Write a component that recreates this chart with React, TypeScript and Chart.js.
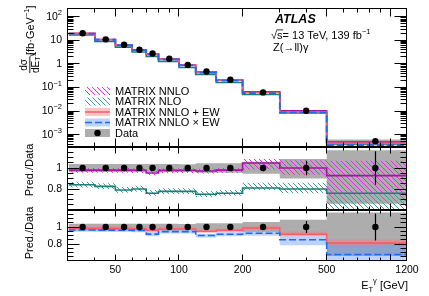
import React, { useEffect, useRef } from 'react';
import { Chart, registerables } from 'chart.js';

Chart.register(...registerables);

const FONT = '"Liberation Sans", Arial, Helvetica, sans-serif';
const W = 429;
const H = 296;

// ---------------- data ----------------
const binEdges = [30, 40, 50, 60, 70, 80, 100, 120, 150, 200, 300, 500, 1200];
// measured dσ/dE_T^γ [fb/GeV]
const dataValues = [20, 11, 6.5, 4.0, 2.75, 1.65, 0.91, 0.48, 0.215, 0.062, 0.0103, 0.00053];
const dataStatRel = [0.008, 0.008, 0.01, 0.01, 0.012, 0.012, 0.015, 0.018, 0.022, 0.03, 0.07, 0.16];
const dataBandLo = [0.962, 0.962, 0.962, 0.962, 0.962, 0.962, 0.965, 0.955, 0.955, 0.945, 0.9, 0.66];
const dataBandHi = [1.038, 1.038, 1.038, 1.038, 1.038, 1.038, 1.035, 1.045, 1.045, 1.06, 1.085, 1.17];

// predictions / data
const nnloRatio = [0.98, 0.98, 0.98, 0.978, 0.952, 0.977, 0.977, 0.972, 0.98, 1.048, 1.0, 0.927];
const nnloLo = [0.955, 0.955, 0.955, 0.953, 0.93, 0.952, 0.952, 0.947, 0.955, 0.985, 0.935, 0.765];
const nnloHi = [1.0, 1.0, 1.0, 0.998, 0.972, 0.997, 0.997, 0.992, 1.0, 1.085, 1.075, 1.07];

const nloRatio = [0.84, 0.825, 0.79, 0.8, 0.76, 0.777, 0.777, 0.75, 0.76, 0.81, 0.8, 0.76];
const nloLo = [0.815, 0.8, 0.765, 0.775, 0.735, 0.752, 0.752, 0.725, 0.735, 0.79, 0.76, 0.55];
const nloHi = [0.87, 0.855, 0.82, 0.83, 0.79, 0.807, 0.807, 0.78, 0.79, 0.86, 0.86, 0.86];

const ewAddRatio = [0.985, 0.985, 0.983, 0.98, 0.958, 0.977, 0.977, 0.95, 0.96, 0.988, 0.915, 0.81];
const ewAddLo = [0.963, 0.963, 0.961, 0.958, 0.936, 0.955, 0.955, 0.928, 0.938, 0.963, 0.888, 0.773];
const ewAddHi = [1.007, 1.007, 1.005, 1.002, 0.98, 0.999, 0.999, 0.972, 0.982, 1.012, 0.945, 0.85];

const ewMulRatio = [0.965, 0.963, 0.962, 0.96, 0.916, 0.946, 0.946, 0.9, 0.915, 0.927, 0.85, 0.677];
const ewMulLo = [0.943, 0.941, 0.94, 0.938, 0.891, 0.923, 0.923, 0.876, 0.89, 0.898, 0.785, 0.55];
const ewMulHi = [0.985, 0.983, 0.982, 0.98, 0.938, 0.967, 0.967, 0.922, 0.938, 0.953, 0.89, 0.79];

// ---------------- axes / labels ----------------
const xLabelValues = [50, 100, 200, 500, 1200];
const xMajorTicks = [50, 100, 200, 500, 1000];
const xMinorTicks = [40, 60, 70, 80, 90, 300, 400, 600, 700, 800, 900];
const topTickValues = [100, 10, 1, 0.1, 0.01, 0.001];
const topTickBase = ['10', '10', '1', '10', '10', '10'];
const topTickExp = ['2', '', '', '\u22121', '\u22122', '\u22123'];
const ratioTickValues = [1, 0.8];
const ratioTickLabels = ['1', '0.8'];
const legendLabels = ['MATRIX NNLO', 'MATRIX NLO', 'MATRIX NNLO + EW', 'MATRIX NNLO \u00d7 EW', 'Data'];

// ---------------- layout ----------------
const PLOT_LEFT = 68.5;
const PLOT_RIGHT = 407;
const TOP_Y = [8, 147];
const MID_Y = [147, 210];
const BOT_Y = [210, 261];
const MID_TITLE_Y = 170;
const BOT_TITLE_Y = 233;

const COL = {
  nnloLine: '#a316a3',
  nnloHatch: '#e02ce0',
  nloLine: '#1b7d7a',
  nloHatch: '#3c9c98',
  ewAddLine: '#ff5a6a',
  ewAddBand: 'rgba(255,120,120,0.42)',
  ewMulLine: '#1f6af0',
  ewMulBand: 'rgba(90,150,255,0.42)',
  gray: '#adadad',
};

const centers = binEdges.slice(0, -1).map((lo, i) => (lo + binEdges[i + 1]) / 2);

function steps(vals: number[]) {
  const pts: { x: number; y: number }[] = [];
  vals.forEach((v, i) => {
    pts.push({ x: binEdges[i], y: v });
    pts.push({ x: binEdges[i + 1], y: v });
  });
  return pts;
}

function hatch(ctx: CanvasRenderingContext2D, color: string) {
  const s = 5;
  const c = document.createElement('canvas');
  c.width = s;
  c.height = s;
  const g = c.getContext('2d')!;
  g.strokeStyle = color;
  g.lineWidth = 1;
  g.beginPath();
  g.moveTo(0, 0);
  g.lineTo(s, s);
  g.moveTo(-1, s - 1);
  g.lineTo(1, s + 1);
  g.moveTo(s - 1, -1);
  g.lineTo(s + 1, 1);
  g.stroke();
  return ctx.createPattern(c, 'repeat')!;
}

const snap = (v: number) => Math.floor(v) + 0.5;

function lineDs(vals: number[], color: string, width: number, order: number, dash: number[] = []) {
  return {
    data: steps(vals),
    borderColor: color,
    borderWidth: width,
    borderDash: dash,
    pointRadius: 0,
    fill: false,
    tension: 0,
    order,
  };
}

function bandDs(lo: number[], hi: number[], fillStyle: any, order: number) {
  return [
    { data: steps(lo), borderColor: 'rgba(0,0,0,0)', borderWidth: 0, pointRadius: 0, fill: false, tension: 0, order },
    { data: steps(hi), borderColor: 'rgba(0,0,0,0)', borderWidth: 0, pointRadius: 0, fill: '-1', backgroundColor: fillStyle, tension: 0, order },
  ];
}

function dotsDs(vals: number[]) {
  return {
    data: centers.map((x, i) => ({ x, y: vals[i] })),
    showLine: false,
    pointRadius: 3.2,
    pointBackgroundColor: '#000',
    pointBorderWidth: 0,
    borderColor: '#000',
    order: 0,
  };
}

function richText(ctx: CanvasRenderingContext2D, parts: { t: string; size: number; dy: number; style?: string }[], x: number, y: number, align: 'left' | 'right') {
  let total = 0;
  const ws = parts.map((p) => {
    ctx.font = `${p.style || ''} ${p.size}px ${FONT}`;
    const w = ctx.measureText(p.t).width;
    total += w;
    return w;
  });
  let cx = align === 'right' ? x - total : x;
  ctx.textAlign = 'left';
  parts.forEach((p, i) => {
    ctx.font = `${p.style || ''} ${p.size}px ${FONT}`;
    ctx.fillText(p.t, cx, y + p.dy);
    cx += ws[i];
  });
  return total;
}

type AxisSpec = {
  yMajor: number[];
  yMinor: number[];
  yMajLen: number;
  yMinLen: number;
  xMajLen: number;
  xMinLen: number;
};

function drawAxes(chart: any, s: AxisSpec) {
  const { ctx, chartArea: a } = chart;
  const xs = chart.scales.x;
  const ys = chart.scales.y;
  const L = snap(a.left) - 1, R = snap(a.right) - 1, T = snap(a.top), B = snap(a.bottom) - 1;
  ctx.save();
  ctx.strokeStyle = '#000';
  ctx.lineWidth = 1;
  ctx.beginPath();
  const xt = (vals: number[], len: number) =>
    vals.forEach((v) => {
      const p = snap(xs.getPixelForValue(v));
      if (p <= L + 1 || p >= R - 1) return;
      ctx.moveTo(p, B);
      ctx.lineTo(p, B - len);
      ctx.moveTo(p, T);
      ctx.lineTo(p, T + len);
    });
  const yt = (vals: number[], len: number) =>
    vals.forEach((v) => {
      const p = snap(ys.getPixelForValue(v));
      if (p <= T + 1 || p >= B - 1) return;
      ctx.moveTo(L, p);
      ctx.lineTo(L + len, p);
      ctx.moveTo(R, p);
      ctx.lineTo(R - len, p);
    });
  xt(xMajorTicks, s.xMajLen);
  xt(xMinorTicks, s.xMinLen);
  yt(s.yMajor, s.yMajLen);
  yt(s.yMinor, s.yMinLen);
  ctx.stroke();
  ctx.strokeRect(L, T, R - L, B - T);
  ctx.restore();
}

function drawErrorBars(chart: any, vals: number[], rel: number[]) {
  const { ctx } = chart;
  const xs = chart.scales.x;
  const ys = chart.scales.y;
  ctx.save();
  ctx.strokeStyle = '#000';
  ctx.lineWidth = 1.2;
  ctx.beginPath();
  vals.forEach((v, i) => {
    const px = snap(xs.getPixelForValue(centers[i]));
    const y1 = ys.getPixelForValue(v * (1 + rel[i]));
    const y2 = ys.getPixelForValue(v * (1 - rel[i]));
    ctx.moveTo(px, y1);
    ctx.lineTo(px, y2);
  });
  ctx.stroke();
  ctx.restore();
}

function drawRotated(ctx: CanvasRenderingContext2D, cx: number, cy: number, fn: () => void) {
  ctx.save();
  ctx.translate(cx, cy);
  ctx.rotate(-Math.PI / 2);
  fn();
  ctx.restore();
}

function ratioYTicks() {
  const minor: number[] = [];
  for (let k = 12; k <= 24; k++) minor.push(k * 0.05);
  return { major: [0.6, 0.8, 1.0, 1.2], minor };
}

function topMinorTicks() {
  const out: number[] = [];
  for (let e = -4; e <= 2; e++) for (let m = 2; m <= 9; m++) out.push(m * Math.pow(10, e));
  return out;
}

function baseOptions(yType: string, yMin: number, yMax: number, yRange: number[]) {
  return {
    responsive: false,
    animation: false,
    devicePixelRatio: 1,
    events: [],
    layout: { padding: { left: PLOT_LEFT, right: W - PLOT_RIGHT, top: yRange[0], bottom: H - yRange[1] } },
    scales: {
      x: { type: 'logarithmic', min: 30, max: 1200, display: false },
      y: { type: yType, min: yMin, max: yMax, display: false },
    },
    plugins: { legend: { display: false }, tooltip: { enabled: false }, title: { display: false } },
  };
}

function drawRatioLabels(chart: any, titleY: number) {
  const { ctx } = chart;
  const ys = chart.scales.y;
  ctx.save();
  ctx.fillStyle = '#000';
  ctx.textBaseline = 'middle';
  ratioTickValues.forEach((v, i) => {
    richText(ctx, [{ t: ratioTickLabels[i], size: 10.5, dy: 0 }], 62, ys.getPixelForValue(v), 'right');
  });
  drawRotated(ctx, 30, titleY, () => {
    ctx.textAlign = 'center';
    ctx.textBaseline = 'middle';
    ctx.font = `11px ${FONT}`;
    ctx.fillText('Pred./Data', 0, 0);
  });
  ctx.restore();
}

function makeTop(canvas: HTMLCanvasElement) {
  const ctx = canvas.getContext('2d')!;
  const nnloAbs = dataValues.map((d, i) => d * nnloRatio[i]);
  const nloAbs = dataValues.map((d, i) => d * nloRatio[i]);
  const addAbs = dataValues.map((d, i) => d * ewAddRatio[i]);
  const mulAbs = dataValues.map((d, i) => d * ewMulRatio[i]);
  const bandLo = dataValues.map((d, i) => d * dataBandLo[i]);
  const bandHi = dataValues.map((d, i) => d * dataBandHi[i]);
  const datasets: any[] = [
    ...bandDs(bandLo, bandHi, COL.gray, 9),
    lineDs(nloAbs, COL.nloLine, 1.6, 6),
    lineDs(nnloAbs, COL.nnloLine, 1.6, 5),
    lineDs(addAbs, COL.ewAddLine, 1.6, 4),
    lineDs(mulAbs, COL.ewMulLine, 1.8, 3, [7, 3]),
    dotsDs(dataValues),
  ];
  const yMinor = topMinorTicks();
  const plugin = {
    id: 'topDeco',
    afterDatasetsDraw(chart: any) {
      drawErrorBars(chart, dataValues, dataStatRel);
      drawAxes(chart, { yMajor: topTickValues, yMinor, yMajLen: 12, yMinLen: 6, xMajLen: 8, xMinLen: 4 });
      const c = chart.ctx as CanvasRenderingContext2D;
      const ys = chart.scales.y;
      c.save();
      c.fillStyle = '#000';
      c.textBaseline = 'middle';
      topTickValues.forEach((v, i) => {
        const y = ys.getPixelForValue(v);
        const parts = [{ t: topTickBase[i], size: 10.5, dy: 0 }];
        if (topTickExp[i]) parts.push({ t: topTickExp[i], size: 7.5, dy: -4 });
        richText(c, parts, 62, y, 'right');
      });
      // y title
      drawRotated(c, 30, 73, () => {
        c.textBaseline = 'middle';
        c.textAlign = 'center';
        c.font = `10px ${FONT}`;
        c.fillText('d\u03c3', 8, -6);
        c.fillRect(0, -0.6, 16.5, 0.9);
        c.textAlign = 'left';
        richText(c, [
          { t: 'dE', size: 10, dy: 0 },
          { t: 'T', size: 7, dy: 2.5 },
          { t: '\u03b3', size: 7, dy: -3.5 },
        ], 0, 6, 'left');
        richText(c, [
          { t: '[fb\u00b7GeV', size: 11, dy: 0 },
          { t: '\u22121', size: 7.5, dy: -4 },
          { t: ']', size: 11, dy: 0 },
        ], 18, 0.5, 'left');
      });
      // ATLAS label
      c.textBaseline = 'middle';
      richText(c, [{ t: 'ATLAS', size: 12.5, dy: 0, style: 'italic bold' }], 275, 20, 'left');
      c.font = `11px ${FONT}`;
      const x0 = 271;
      const wRoot = c.measureText('\u221a').width;
      const wS = c.measureText('s').width;
      richText(c, [
        { t: '\u221as= 13 TeV, 139 fb', size: 11, dy: 0 },
        { t: '\u22121', size: 7.5, dy: -4 },
      ], x0, 35.5, 'left');
      c.fillRect(x0 + wRoot - 0.5, 29.5, wS + 1, 0.8);
      richText(c, [{ t: 'Z(\u2192ll)\u03b3', size: 11, dy: 0 }], 273, 47.5, 'left');
      // legend
      const rowsY = [91, 101.5, 112, 122.5, 133];
      const bx = 85, bw = 25, bh = 8;
      const hatchN = hatch(c, COL.nnloHatch);
      const hatchL = hatch(c, COL.nloHatch);
      rowsY.forEach((y, i) => {
        const top = y - bh / 2;
        if (i === 0) { c.fillStyle = hatchN; c.fillRect(bx, top, bw, bh); }
        if (i === 1) { c.fillStyle = hatchL; c.fillRect(bx, top, bw, bh); }
        if (i === 2) {
          c.fillStyle = COL.ewAddBand; c.fillRect(bx, top, bw, bh);
          c.strokeStyle = COL.ewAddLine; c.lineWidth = 1.5; c.setLineDash([]);
          c.beginPath(); c.moveTo(bx, y); c.lineTo(bx + bw, y); c.stroke();
        }
        if (i === 3) {
          c.fillStyle = COL.ewMulBand; c.fillRect(bx, top, bw, bh);
          c.strokeStyle = COL.ewMulLine; c.lineWidth = 1.5; c.setLineDash([7, 3]);
          c.beginPath(); c.moveTo(bx, y); c.lineTo(bx + bw, y); c.stroke();
          c.setLineDash([]);
        }
        if (i === 4) {
          c.fillStyle = COL.gray; c.fillRect(bx, top, bw, bh);
          c.fillStyle = '#000'; c.beginPath(); c.arc(bx + bw / 2, y, 3.2, 0, Math.PI * 2); c.fill();
        }
        c.fillStyle = '#000';
        c.textBaseline = 'middle';
        richText(c, [{ t: legendLabels[i], size: 11, dy: 0.5 }], 115, y, 'left');
      });
      c.restore();
    },
  };
  return new Chart(ctx, {
    type: 'line',
    data: { datasets },
    options: baseOptions('logarithmic', 3.3e-4, 235, TOP_Y) as any,
    plugins: [plugin],
  });
}

function makeMid(canvas: HTMLCanvasElement) {
  const ctx = canvas.getContext('2d')!;
  const ones = dataValues.map((d) => d / d);
  const datasets: any[] = [
    ...bandDs(dataBandLo, dataBandHi, COL.gray, 9),
    ...bandDs(nloLo, nloHi, hatch(ctx, COL.nloHatch), 7),
    lineDs(nloRatio, COL.nloLine, 1.6, 6),
    ...bandDs(nnloLo, nnloHi, hatch(ctx, COL.nnloHatch), 5),
    lineDs(nnloRatio, COL.nnloLine, 1.6, 4),
    dotsDs(ones),
  ];
  const rt = ratioYTicks();
  const plugin = {
    id: 'midDeco',
    afterDatasetsDraw(chart: any) {
      drawErrorBars(chart, ones, dataStatRel);
      drawAxes(chart, { yMajor: rt.major, yMinor: rt.minor, yMajLen: 12, yMinLen: 6, xMajLen: 6, xMinLen: 3 });
      drawRatioLabels(chart, MID_TITLE_Y);
    },
  };
  return new Chart(ctx, {
    type: 'line',
    data: { datasets },
    options: baseOptions('linear', 0.6, 1.2, MID_Y) as any,
    plugins: [plugin],
  });
}

function makeBot(canvas: HTMLCanvasElement) {
  const ctx = canvas.getContext('2d')!;
  const ones = dataValues.map((d) => d / d);
  const datasets: any[] = [
    ...bandDs(dataBandLo, dataBandHi, COL.gray, 9),
    ...bandDs(ewAddLo, ewAddHi, COL.ewAddBand, 7),
    ...bandDs(ewMulLo, ewMulHi, COL.ewMulBand, 6),
    lineDs(ewAddRatio, COL.ewAddLine, 1.6, 5),
    lineDs(ewMulRatio, COL.ewMulLine, 1.6, 4, [7, 3]),
    dotsDs(ones),
  ];
  const rt = ratioYTicks();
  const plugin = {
    id: 'botDeco',
    afterDatasetsDraw(chart: any) {
      drawErrorBars(chart, ones, dataStatRel);
      drawAxes(chart, { yMajor: rt.major, yMinor: rt.minor, yMajLen: 12, yMinLen: 6, xMajLen: 6, xMinLen: 3 });
      drawRatioLabels(chart, BOT_TITLE_Y);
      const c = chart.ctx as CanvasRenderingContext2D;
      const xs = chart.scales.x;
      c.save();
      c.fillStyle = '#000';
      c.textAlign = 'center';
      c.textBaseline = 'middle';
      c.font = `10.5px ${FONT}`;
      xLabelValues.forEach((v) => {
        c.fillText(String(v), xs.getPixelForValue(v), 270);
      });
      c.textBaseline = 'alphabetic';
      richText(c, [
        { t: 'E', size: 11, dy: 0 },
        { t: 'T', size: 7.5, dy: 2.5 },
        { t: '\u03b3', size: 7.5, dy: -6 },
        { t: ' [GeV]', size: 11, dy: 0 },
      ], 408, 289, 'right');
      c.restore();
    },
  };
  return new Chart(ctx, {
    type: 'line',
    data: { datasets },
    options: baseOptions('linear', 0.6, 1.2, BOT_Y) as any,
    plugins: [plugin],
  });
}

export default function App() {
  const topRef = useRef<HTMLCanvasElement>(null);
  const midRef = useRef<HTMLCanvasElement>(null);
  const botRef = useRef<HTMLCanvasElement>(null);
  useEffect(() => {
    const charts = [makeTop(topRef.current!), makeMid(midRef.current!), makeBot(botRef.current!)];
    return () => charts.forEach((c) => c.destroy());
  }, []);
  const st: React.CSSProperties = { position: 'absolute', left: 0, top: 0, width: W, height: H, display: 'block' };
  return (
    <div style={{ position: 'fixed', left: 0, top: 0, width: W, height: H, background: '#fff', overflow: 'hidden' }}>
      <canvas ref={topRef} width={W} height={H} style={st} />
      <canvas ref={midRef} width={W} height={H} style={st} />
      <canvas ref={botRef} width={W} height={H} style={st} />
    </div>
  );
}
